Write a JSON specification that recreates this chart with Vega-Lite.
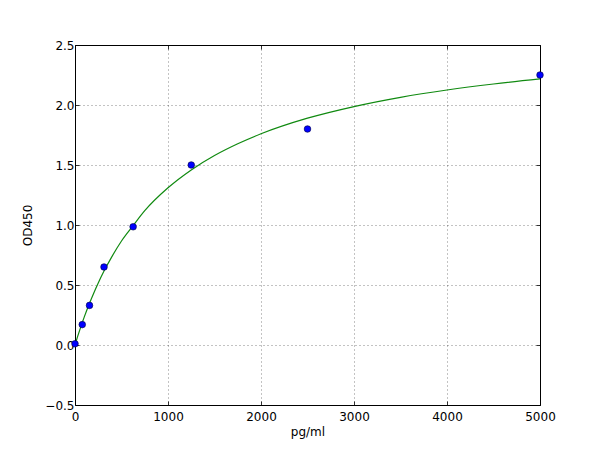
{
  "$schema": "https://vega.github.io/schema/vega-lite/v6.json",
  "width": 465,
  "height": 360,
  "autosize": {"type": "none"},
  "padding": {"left": 75, "top": 45, "right": 60, "bottom": 45},
  "background": "white",
  "config": {
    "view": {"stroke": "black", "strokeWidth": 1},
    "font": "DejaVu Sans",
    "axis": {
      "labelFont": "DejaVu Sans",
      "titleFont": "DejaVu Sans",
      "labelFontSize": 12,
      "titleFontSize": 12,
      "titleFontWeight": "normal",
      "labelColor": "black",
      "titleColor": "black",
      "labelFlush": false,
      "labelOverlap": false,
      "domain": false,
      "tickColor": "black",
      "tickSize": -4,
      "tickWidth": 0.8,
      "labelPadding": 5,
      "gridColor": "black",
      "gridDash": [1, 3],
      "gridWidth": 0.6,
      "gridOpacity": 0.8
    }
  },
  "datasets": {
    "standards": [
      {"conc": 0, "od": 0.01},
      {"conc": 78, "od": 0.17},
      {"conc": 156, "od": 0.33},
      {"conc": 312, "od": 0.65},
      {"conc": 625, "od": 0.985},
      {"conc": 1250, "od": 1.5},
      {"conc": 2500, "od": 1.8},
      {"conc": 5000, "od": 2.25}
    ],
    "fit": [
      {"conc": 0, "od": 0.0},
      {"conc": 25, "od": 0.063},
      {"conc": 50, "od": 0.122},
      {"conc": 78, "od": 0.186},
      {"conc": 100, "od": 0.234},
      {"conc": 156, "od": 0.348},
      {"conc": 200, "od": 0.43},
      {"conc": 250, "od": 0.517},
      {"conc": 312, "od": 0.616},
      {"conc": 400, "od": 0.741},
      {"conc": 500, "od": 0.867},
      {"conc": 625, "od": 0.995},
      {"conc": 750, "od": 1.119},
      {"conc": 1000, "od": 1.31},
      {"conc": 1250, "od": 1.459},
      {"conc": 1500, "od": 1.579},
      {"conc": 1750, "od": 1.677},
      {"conc": 2000, "od": 1.76},
      {"conc": 2500, "od": 1.89},
      {"conc": 3000, "od": 1.987},
      {"conc": 3500, "od": 2.064},
      {"conc": 4000, "od": 2.125},
      {"conc": 4500, "od": 2.175},
      {"conc": 5000, "od": 2.217}
    ]
  },
  "layer": [
    {
      "data": {"name": "fit"},
      "mark": {"type": "line", "color": "#108a10", "strokeWidth": 1.2, "interpolate": "monotone", "clip": true},
      "encoding": {
        "x": {
          "field": "conc", "type": "quantitative",
          "scale": {"domain": [0, 5000], "nice": false, "zero": false},
          "axis": {"orient": "top", "labels": false, "grid": false, "title": null, "values": [0, 1000, 2000, 3000, 4000, 5000]}
        },
        "y": {
          "field": "od", "type": "quantitative",
          "scale": {"domain": [-0.5, 2.5], "nice": false, "zero": false},
          "axis": {"orient": "right", "labels": false, "grid": false, "title": null, "values": [-0.5, 0, 0.5, 1, 1.5, 2, 2.5]}
        }
      }
    },
    {
      "data": {"name": "standards"},
      "mark": {"type": "circle", "size": 44, "color": "#0000ff", "opacity": 1, "stroke": "#000040", "strokeWidth": 0.6, "clip": false},
      "encoding": {
        "x": {
          "field": "conc", "type": "quantitative",
          "scale": {"domain": [0, 5000], "nice": false, "zero": false},
          "axis": {"orient": "bottom", "title": "pg/ml", "labelPadding": 10, "titlePadding": 4, "grid": true, "values": [0, 1000, 2000, 3000, 4000, 5000], "format": "d"}
        },
        "y": {
          "field": "od", "type": "quantitative",
          "scale": {"domain": [-0.5, 2.5], "nice": false, "zero": false},
          "axis": {"orient": "left", "title": "OD450", "titlePadding": 10, "grid": true, "values": [-0.5, 0, 0.5, 1, 1.5, 2, 2.5], "format": ".1f"}
        }
      }
    }
  ],
  "resolve": {"axis": {"x": "independent", "y": "independent"}}
}
